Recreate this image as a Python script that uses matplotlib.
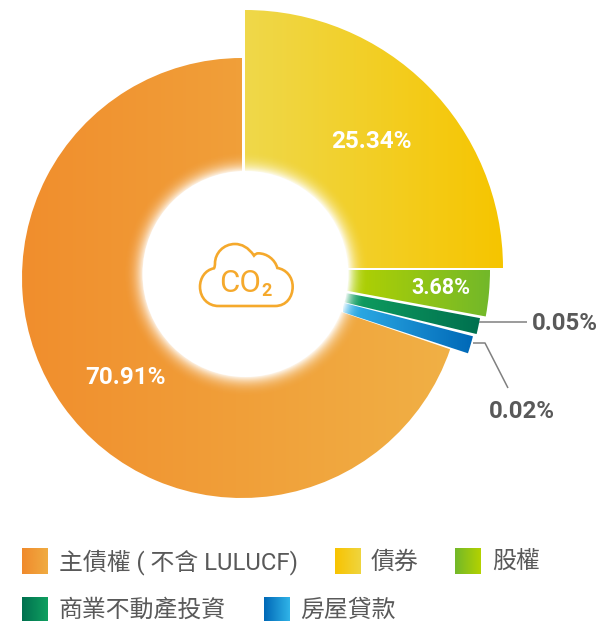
import numpy as np
import matplotlib
matplotlib.use("Agg")
import matplotlib.pyplot as plt
from matplotlib.colors import LinearSegmentedColormap
from matplotlib.patches import Wedge, Circle, PathPatch
from matplotlib.path import Path

# ---- data ----
categories = ['債券', '股權', '商業不動產投資', '房屋貸款', '主債權 ( 不含 LULUCF)']
shares = [25.34, 3.68, 0.05, 0.02, 70.91]
# the source draws the slices on a non-proportional scale: angle
drawn_sweep_deg = [90, 10.5, 2.9, 3.7, 251.1]

# ---- layout / style ----
W, H = 598, 621
gap_before_deg = [0, 0, 0.1, 1.0, 0.7]
apex = [(245, 268), (235, 270), (164, 259), (207, 267.5), (242, 278)]
radius = [258, 255, 321.5, 274.7, 220]
grad_x = [(245, 503), (347, 490), (344, 480), (343, 473), (22, 450)]
grad_c = [('#efd84a', '#f6c500'), ('#b4d200', '#72b82a'), ('#10a060', '#00704f'),
          ('#30b0e8', '#0068b7'), ('#f08e2d', '#f1b045')]
legend_order = [4, 0, 1, 2, 3]
legend_box_x = [22, 335, 455, 22, 264]
legend_text_x = [59, 371, 492, 59, 300]
legend_y = [561, 561, 561, 610, 610]
legend_text_dy = [1, 1, 1, 0, 0]
legend_c = [('#f08a2c', '#f0ac42'), ('#f8c300', '#efd53f'), ('#72b82a', '#b4d200'),
            ('#00704f', '#10a060'), ('#0068b7', '#30b4e8')]
GREY = '#595959'
hole = (245.5, 274, 103)
FONT = ['Roboto', 'Noto Sans CJK TC', 'DejaVu Sans']

fig = plt.figure(figsize=(W / 100, H / 100), dpi=100)
ax = fig.add_axes([0, 0, 1, 1])


def hgrad(x0, x1, y0, y1, c0, c1, clip=None, z=1):
    cm = LinearSegmentedColormap.from_list('g', [c0, c1])
    im = ax.imshow(np.linspace(0, 1, 256)[None, :], cmap=cm, extent=[x0, x1, y1, y0],
                   aspect='auto', zorder=z, interpolation='bilinear')
    if clip is not None:
        im.set_clip_path(clip)
    return im


theta = -90.0
for i, sweep in enumerate(drawn_sweep_deg):
    theta += gap_before_deg[i]
    w = Wedge(apex[i], radius[i], theta, theta + sweep, fc='none', ec='none')
    ax.add_patch(w)
    hgrad(grad_x[i][0], grad_x[i][1], 0, H, *grad_c[i], clip=w, z=1)
    theta += sweep

# soft white glow round the hole, then the hole
cx, cy, r = hole
yy, xx = np.mgrid[cy - 150:cy + 150:600j, cx - 150:cx + 150:600j]
d = np.hypot(xx - cx, yy - cy)
glow = np.ones(d.shape + (4,))
glow[..., 3] = np.clip(1 - (d - r) / 22, 0, 1) ** 2.6 * 0.9
ax.imshow(glow, extent=[cx - 150, cx + 150, cy + 150, cy - 150], aspect='auto', zorder=3)
ax.add_patch(Circle((cx, cy), r, fc='white', ec='none', zorder=4))

# cloud icon (coordinates from the reference)
def z(px, py):
    return (130 + px / 3, 170 + py / 3)

pts = [(265, 408), (435, 408),
       (470, 408), (488, 380), (488, 350),
       (488, 320), (468, 298), (442, 294),
       (435, 268), (410, 250), (385, 250),
       (380, 250), (376, 252), (372, 257),
       (355, 232), (335, 222), (315, 222),
       (280, 222), (255, 250), (255, 280),
       (255, 285), (254, 292), (252, 295),
       (225, 300), (210, 325), (210, 350),
       (210, 385), (235, 408), (265, 408)]
codes = [Path.MOVETO, Path.LINETO] + [Path.CURVE4] * 27
ax.add_patch(PathPatch(Path([z(*p) for p in pts], codes), fc='none', ec='#f5a92c', lw=1.9, zorder=5))
ax.text(240.5, 284, 'CO', color='#f5a92c', fontsize=22.5, family=FONT, ha='center', va='center', zorder=5)
ax.text(267, 290.5, '2', color='#f5a92c', fontsize=13, family=FONT, weight='bold', ha='center', va='center', zorder=5)

# percentage labels
label_xy = [(371, 141.5), (441, 288), (565, 324), (521.5, 411.5), (125, 378)]
label_c = ['white', 'white', GREY, GREY, 'white']
label_fs = [17.5, 15.5, 17.3, 17.3, 17.5]
for i, v in enumerate(shares):
    ax.text(*label_xy[i], f'{v:.2f}%', color=label_c[i], fontsize=label_fs[i], family=FONT, weight='bold',
            ha='center', va='center', zorder=6)

# leader lines
ax.plot([479, 527], [322, 322], color='#808080', lw=1.1, zorder=6, solid_capstyle='butt')
ax.plot([473, 485, 508], [343, 343, 388], color='#808080', lw=1.1, zorder=6, solid_capstyle='butt')

# legend
for k, i in enumerate(legend_order):
    y = legend_y[k]
    hgrad(legend_box_x[k], legend_box_x[k] + 26, y - 13, y + 13, *legend_c[k], z=2)
    ax.text(legend_text_x[k], y + legend_text_dy[k], categories[i], color=GREY, fontsize=17.2, family=FONT,
            ha='left', va='center', zorder=6)

ax.set_xlim(0, W)
ax.set_ylim(H, 0)
ax.axis('off')
fig.savefig('out.png', dpi=100)
